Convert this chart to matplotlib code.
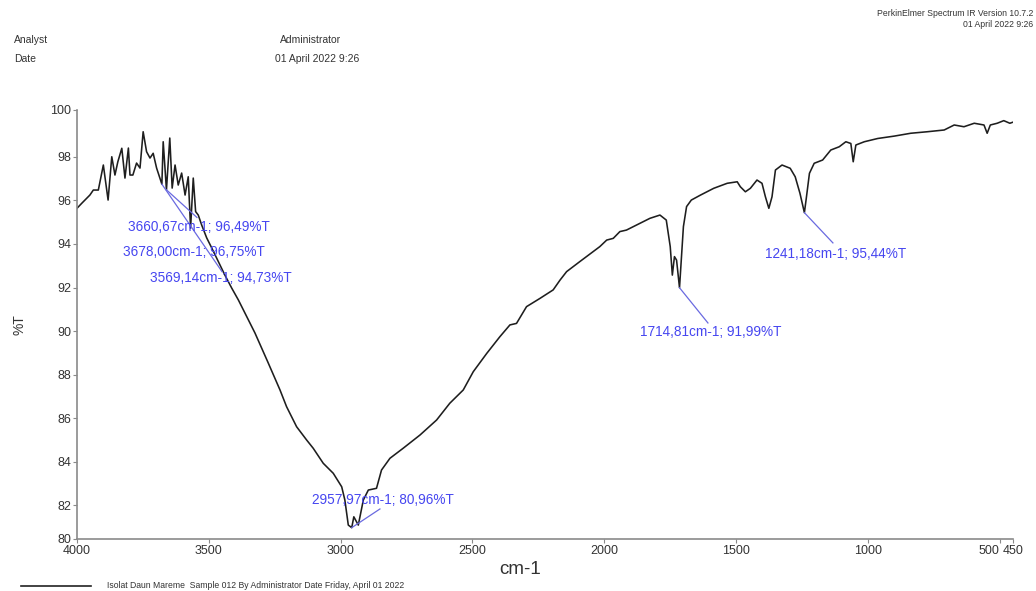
import matplotlib.pyplot as plt

plt.rcParams['font.family'] = ['Liberation Sans', 'DejaVu Sans']

# Spectrum (cm-1, %T)
wavenumber = [4000, 3982, 3963, 3951, 3938, 3919, 3900, 3882, 3868, 3856, 3845, 3830, 3818, 3805,
              3799, 3788, 3774, 3761, 3749, 3736, 3723, 3711, 3698, 3678, 3673, 3660.67, 3648,
              3639, 3628, 3616, 3603, 3590, 3578, 3569.14, 3559, 3550, 3540, 3527, 3508, 3489,
              3464, 3439, 3413, 3388, 3325, 3276, 3230, 3205, 3167, 3129, 3104, 3066, 3028,
              2996, 2984, 2971, 2957.97, 2950, 2933, 2914, 2895, 2864, 2845, 2813, 2763, 2699,
              2636, 2586, 2535, 2497, 2446, 2396, 2358, 2333, 2295, 2244, 2194, 2168, 2143,
              2093, 2042, 2017, 1991, 1966, 1941, 1916, 1865, 1827, 1789, 1765, 1750, 1742,
              1734, 1726, 1714.81, 1700, 1688, 1670, 1635, 1585, 1534, 1496, 1484, 1465, 1446,
              1421, 1402, 1389, 1376, 1364, 1351, 1326, 1295, 1276, 1258, 1241.18, 1234, 1222,
              1204, 1172, 1141, 1109, 1084, 1065, 1056, 1046, 1014, 963, 900, 838, 775, 711,
              673, 636, 597, 560, 548, 536, 510, 485, 462, 450]
transmittance = [95.64, 95.87, 96.10, 96.25, 96.48, 96.48, 97.63, 96.02, 98.01, 97.17, 97.78, 98.40,
                 97.03, 98.41, 97.17, 97.17, 97.72, 97.49, 99.16, 98.24, 97.95, 98.17, 97.49,
                 96.75, 98.70, 96.49, 98.87, 96.57, 97.63, 96.71, 97.26, 96.25, 97.09, 94.73,
                 97.03, 95.49, 95.33, 94.87, 94.28, 93.82, 93.19, 92.57, 91.97, 91.43, 89.91,
                 88.57, 87.29, 86.52, 85.60, 84.99, 84.61, 83.92, 83.46, 82.84, 82.23, 81.08,
                 80.96, 81.46, 81.08, 82.23, 82.69, 82.77, 83.61, 84.15, 84.61, 85.22, 85.91,
                 86.68, 87.29, 88.13, 88.97, 89.74, 90.28, 90.35, 91.12, 91.50, 91.89, 92.34,
                 92.73, 93.19, 93.65, 93.88, 94.18, 94.26, 94.57, 94.64, 94.95, 95.18, 95.33,
                 95.10, 93.88, 92.57, 93.42, 93.26, 91.99, 94.80, 95.72, 96.02, 96.25, 96.56,
                 96.79, 96.86, 96.63, 96.40, 96.56, 96.94, 96.79, 96.17, 95.64, 96.17, 97.40,
                 97.63, 97.48, 97.09, 96.33, 95.44, 96.10, 97.25, 97.71, 97.86, 98.32, 98.47,
                 98.70, 98.62, 97.78, 98.55, 98.70, 98.85, 98.96, 99.09, 99.16, 99.24, 99.47,
                 99.39, 99.55, 99.47, 99.09, 99.47, 99.55, 99.67, 99.55, 99.60]

# Peak labels
peak_wn = [3660.67, 3678.00, 3569.14, 2957.97, 1714.81, 1241.18]
peak_t = [96.49, 96.75, 94.73, 80.96, 91.99, 95.44]
peak_labels = ["3660,67cm-1; 96,49%T", "3678,00cm-1; 96,75%T", "3569,14cm-1; 94,73%T",
               "2957,97cm-1; 80,96%T", "1714,81cm-1; 91,99%T", "1241,18cm-1; 95,44%T"]
# layout: text anchor and leader line end (data coords)
label_xy = [(3806, 94.79), (3826, 93.65), (3723, 92.42), (3109, 82.23), (1865, 89.95), (1391, 93.54)]
leader_end = [(3545, 95.22), (3450, 92.73), None, (2851, 81.82), (1607, 90.37), (1133, 94.05)]

x_ticks = [4000, 3500, 3000, 2500, 2000, 1500, 1000, 500, 450]
y_lo, y_hi = 80.44, 100.16
y_ticks = [y_lo, 82, 84, 86, 88, 90, 92, 94, 96, 98, y_hi]
y_tick_labels = ["80", "82", "84", "86", "88", "90", "92", "94", "96", "98", "100"]

fig = plt.figure(figsize=(10.36, 5.91), dpi=100)
ax = fig.add_axes([0.0743, 0.088, 0.9035, 0.7259])

ax.plot(wavenumber, transmittance, color='#1e1e1e', lw=1.15)

for i in range(len(peak_wn)):
    if leader_end[i] is not None:
        ax.plot([peak_wn[i], leader_end[i][0]], [peak_t[i], leader_end[i][1]],
                color='#6a6ae0', lw=0.9)
    ax.text(label_xy[i][0], label_xy[i][1], peak_labels[i], color='#4646f0',
            fontsize=9.8, ha='left', va='center')

ax.set_xlim(4000, 450)
ax.set_ylim(y_lo, y_hi)
ax.set_xticks(x_ticks)
ax.set_xticklabels([str(v) for v in x_ticks])
ax.set_yticks(y_ticks)
ax.set_yticklabels(y_tick_labels)
xl = ax.get_xticklabels()
xl[-2].set_horizontalalignment('right')

for s in ['top', 'right']:
    ax.spines[s].set_visible(False)
for s in ['left', 'bottom']:
    ax.spines[s].set_color('#8a8a8a')
    ax.spines[s].set_linewidth(1.2)
ax.tick_params(colors='#8a8a8a', labelcolor='#333333', labelsize=9, length=3, pad=1)

fig.text(0.0193, 0.45, "%T", rotation=90, fontsize=10, color='#333333', ha='center', va='center')
fig.text(0.502, 0.036, "cm-1", fontsize=13.5, color='#333333', ha='center', va='center')

# header
fig.text(0.0135, 0.932, "Analyst", fontsize=7.5, color='#333333', va='center')
fig.text(0.0135, 0.901, "Date", fontsize=7.5, color='#333333', va='center')
fig.text(0.270, 0.932, "Administrator", fontsize=7.5, color='#333333', va='center')
fig.text(0.265, 0.901, "01 April 2022 9:26", fontsize=7.5, color='#333333', va='center')
fig.text(0.997, 0.978, "PerkinElmer Spectrum IR Version 10.7.2", fontsize=6.2, color='#333333',
         ha='right', va='center')
fig.text(0.997, 0.958, "01 April 2022 9:26", fontsize=6.2, color='#333333', ha='right', va='center')

# legend line at the bottom
fig.add_artist(plt.Line2D([0.02, 0.088], [0.009, 0.009], color='#222222', lw=1.2))
fig.text(0.103, 0.009, "Isolat Daun Mareme  Sample 012 By Administrator Date Friday, April 01 2022",
         fontsize=6.2, color='#333333', va='center')

fig.savefig("out.png", dpi=100)
